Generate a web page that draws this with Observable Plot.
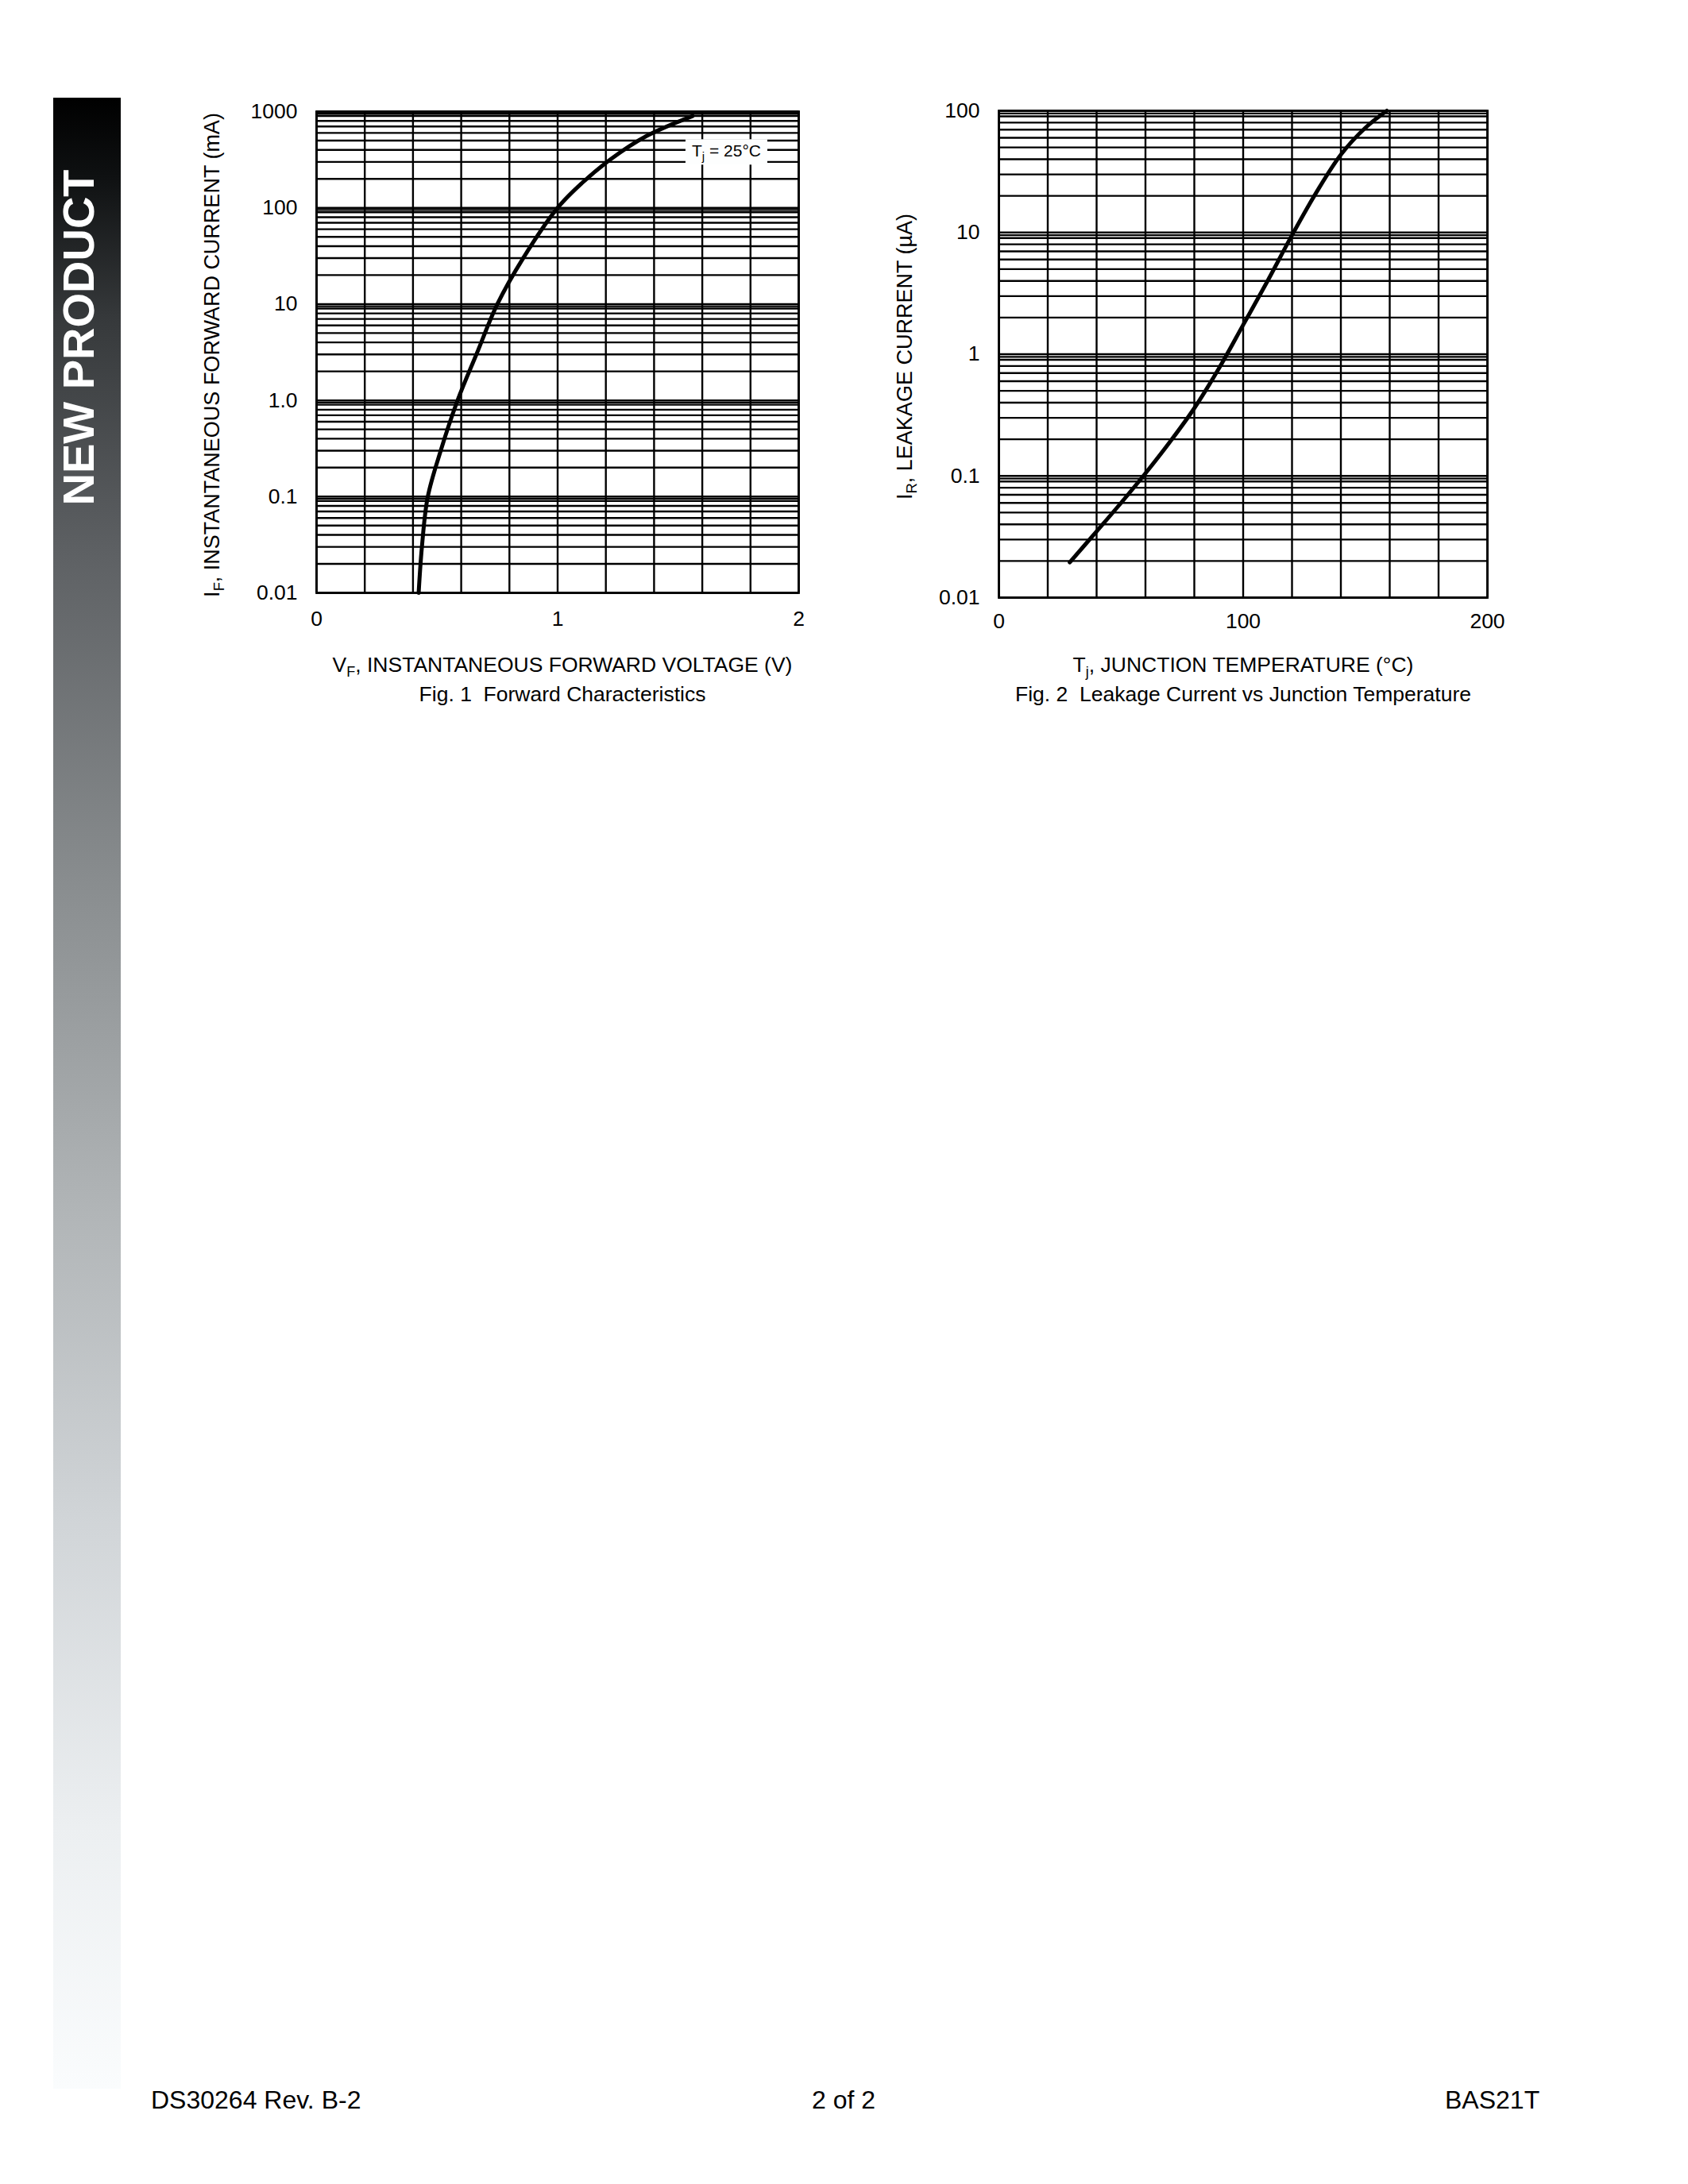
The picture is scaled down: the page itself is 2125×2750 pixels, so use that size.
<!DOCTYPE html>
<html>
<head>
<meta charset="utf-8">
<script src="https://cdn.jsdelivr.net/npm/d3@7"></script>
<script src="https://cdn.jsdelivr.net/npm/@observablehq/plot@0.6"></script>
<style>
html, body { margin: 0; padding: 0; background: #fff; }
body { width: 2125px; height: 2750px; position: relative; overflow: hidden;
       font-family: "Liberation Sans", Arial, Helvetica, sans-serif; color: #000; }
.abs { position: absolute; white-space: pre; line-height: 1; }
#sidebar { left: 67px; top: 123px; width: 85px; height: 2507px;
  background: linear-gradient(to bottom,
    #000000 0px, #0e1011 96px, #36393b 277px, #5e6164 577px, #8a8e90 1000px,
    #b0b4b6 1392px, #d0d4d7 1784px, #eceff1 2177px, #fafcfd 2507px); }
#sidetext { left: 99px; top: 425px; font-size: 56px; font-weight: bold; color: #fff;
  transform: translate(-50%, -50%) rotate(-90deg); }
.caption { font-size: 26.5px; transform: translateX(-50%); top: 861px; }
.footer { font-size: 32px; top: 2628px; }
</style>
</head>
<body>
<div id="sidebar" class="abs"></div>
<div id="sidetext" class="abs">NEW PRODUCT</div>

<div id="chart1" class="abs" style="left:200px; top:100px;"></div>
<div id="chart2" class="abs" style="left:1060px; top:99px;"></div>

<div class="abs caption" style="left:708px;">Fig. 1  Forward Characteristics</div>
<div class="abs caption" style="left:1565px;">Fig. 2  Leakage Current vs Junction Temperature</div>

<div class="abs footer" style="left:190px;">DS30264 Rev. B-2</div>
<div class="abs footer" style="left:1022px;">2 of 2</div>
<div class="abs footer" style="left:1819px;">BAS21T</div>

<script>
// ---------- Fig. 1 data: forward characteristics (V, mA) ----------
const forwardVoltage = [0.4235, 0.437, 0.4615, 0.515, 0.585, 0.663, 0.75, 0.857, 1.0, 1.10, 1.22, 1.37, 1.56];
const forwardCurrent = [0.01, 0.03, 0.1, 0.3, 1, 3, 10, 30, 100, 180, 320, 560, 900];

const fig1XTicks = [0, 1, 2];
const fig1XTickLabels = ["0", "1", "2"];
const fig1YTicks = [0.01, 0.1, 1, 10, 100, 1000];
const fig1YTickLabels = ["0.01", "0.1", "1.0", "10", "100", "1000"];
const fig1XGrid = [0, 0.2, 0.4, 0.6, 0.8, 1.0, 1.2, 1.4, 1.6, 1.8, 2.0];
const fig1Decades = [0.01, 0.1, 1, 10, 100];
const fig1Top = 1000;

const annotationV = [1.70];
const annotationI = [386];
const annotationText = ["Tj = 25°C"];

// ---------- Fig. 2 data: leakage current vs junction temperature (°C, µA) ----------
const junctionTemp = [29, 40, 50, 60, 70, 80, 90, 100, 110, 120, 130, 140, 150, 158.8];
const leakageCurrent = [0.0195, 0.035, 0.06, 0.105, 0.19, 0.36, 0.76, 1.74, 4.0, 9.5, 21.4, 43.6, 72.4, 100];

const fig2XTicks = [0, 100, 200];
const fig2XTickLabels = ["0", "100", "200"];
const fig2YTicks = [0.01, 0.1, 1, 10, 100];
const fig2YTickLabels = ["0.01", "0.1", "1", "10", "100"];
const fig2XGrid = [0, 20, 40, 60, 80, 100, 120, 140, 160, 180, 200];
const fig2Decades = [0.01, 0.1, 1, 10];
const fig2Top = 100;

// minor grid lines drawn per decade on the log paper
const logGridSteps = [1, 2, 3, 4, 5, 6, 7, 8, 9, 9.5];

// ---------- build tables ----------
const fig1Data = forwardVoltage.map((v, k) => ({v, i: forwardCurrent[k]}));
const fig2Data = junctionTemp.map((t, k) => ({t, i: leakageCurrent[k]}));
const annotation = annotationV.map((v, k) => ({v, i: annotationI[k], label: annotationText[k]}));
const fig1YGrid = fig1Decades.flatMap(d => logGridSteps.map(s => s * d)).concat([fig1Top]);
const fig2YGrid = fig2Decades.flatMap(d => logGridSteps.map(s => s * d)).concat([fig2Top]);

const fontFamily = '"Liberation Sans", Arial, Helvetica, sans-serif';
const ink = "#000";

function makeChart(o) {
  return Plot.plot({
    width: o.width, height: o.height,
    marginLeft: o.ml, marginRight: o.mr, marginTop: o.mt, marginBottom: o.mb,
    style: {fontFamily, fontSize: "26.5px", background: "transparent", color: ink, overflow: "visible"},
    x: {domain: o.xDomain, ticks: o.xTicks, tickFormat: d => o.xLabels[o.xTicks.indexOf(d)],
        tickSize: 0, tickPadding: o.xPad, label: null},
    y: {type: "log", domain: o.yDomain, ticks: o.yTicks, tickFormat: d => o.yLabels[o.yTicks.indexOf(d)],
        tickSize: 0, tickPadding: 24, label: null},
    marks: [
      Plot.ruleY(o.yGrid, {stroke: ink, strokeWidth: 2.4}),
      Plot.ruleX(o.xGrid, {stroke: ink, strokeWidth: 2.4}),
      Plot.frame({stroke: ink, strokeWidth: 2.8}),
      Plot.line(o.data, {x: o.xKey, y: "i", curve: "catmull-rom", stroke: ink, strokeWidth: 5}),
      ...(o.extra || [])
    ]
  });
}

const chart1 = makeChart({
  width: 830, height: 770, ml: 198, mr: 25, mt: 40, mb: 124, xPad: 23,
  xDomain: [0, 2], xTicks: fig1XTicks, xLabels: fig1XTickLabels,
  yDomain: [0.01, 1000], yTicks: fig1YTicks, yLabels: fig1YTickLabels,
  yGrid: fig1YGrid, xGrid: fig1XGrid, data: fig1Data, xKey: "v",
  extra: [Plot.text(annotation, {x: "v", y: "i", text: "label", fontSize: 21, fill: ink})]
});
const chart2 = makeChart({
  width: 837, height: 777, ml: 197, mr: 25, mt: 40, mb: 124, xPad: 20,
  xDomain: [0, 200], xTicks: fig2XTicks, xLabels: fig2XTickLabels,
  yDomain: [0.01, 100], yTicks: fig2YTicks, yLabels: fig2YTickLabels,
  yGrid: fig2YGrid, xGrid: fig2XGrid, data: fig2Data, xKey: "t"
});

document.getElementById("chart1").appendChild(chart1);
document.getElementById("chart2").appendChild(chart2);

// axis titles with subscripts
function addTitle(svgNode, x, y, rotate, main, sub, rest, size) {
  const t = d3.select(svgNode).append("text")
    .attr("font-size", size).attr("text-anchor", "middle").attr("fill", ink)
    .attr("font-family", fontFamily)
    .attr("transform", `translate(${x},${y})` + (rotate ? ` rotate(${rotate})` : ""));
  t.append("tspan").text(main);
  t.append("tspan").attr("font-size", size * 0.68).attr("dy", 6).text(sub);
  t.append("tspan").attr("dy", -6).text(rest);
}
addTitle(chart1, 508, 746, 0, "V", "F", ", INSTANTANEOUS FORWARD VOLTAGE (V)", 26.5);
addTitle(chart1, 76, 347, -90, "I", "F", ", INSTANTANEOUS FORWARD CURRENT (mA)", 27);
addTitle(chart2, 505, 747, 0, "T", "j", ", JUNCTION TEMPERATURE (°C)", 26.5);
addTitle(chart2, 88, 350, -90, "I", "R", ", LEAKAGE CURRENT (µA)", 27);

// annotation: subscript j and a white box behind it
d3.select(chart1).selectAll('g[aria-label="text"] text').each(function() {
  const el = d3.select(this);
  const label = el.text();
  el.text("");
  el.append("tspan").text(label.slice(0, 1));
  el.append("tspan").attr("font-size", 15).attr("dy", 5).text(label.slice(1, 2));
  el.append("tspan").attr("dy", -5).text(label.slice(2));
  const bb = this.getBBox();
  const rect = document.createElementNS("http://www.w3.org/2000/svg", "rect");
  rect.setAttribute("x", bb.x - 8);
  rect.setAttribute("y", bb.y - 3);
  rect.setAttribute("width", bb.width + 16);
  rect.setAttribute("height", bb.height + 5);
  rect.setAttribute("fill", "#fdfefe");
  rect.setAttribute("stroke", "none");
  const tr = this.getAttribute("transform");
  if (tr) rect.setAttribute("transform", tr);
  this.parentNode.insertBefore(rect, this);
});
</script>
</body>
</html>
